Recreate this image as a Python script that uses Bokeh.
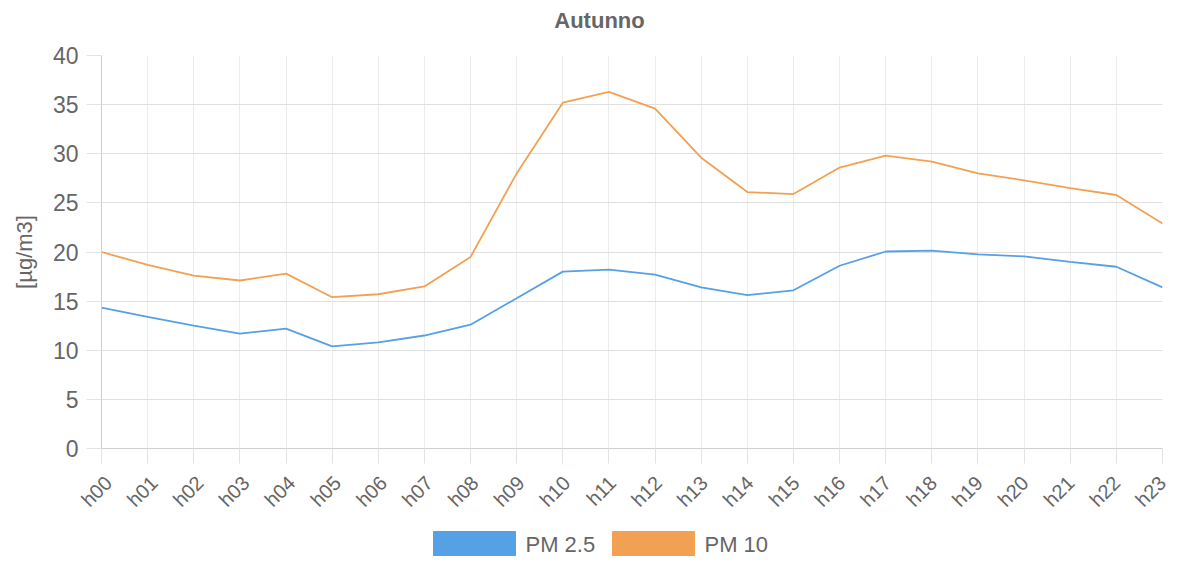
import math
from bokeh.plotting import figure
from bokeh.layouts import column
from bokeh.models import Range1d, FixedTicker, LinearAxis
from bokeh.core.properties import value
from bokeh.embed import file_html
from bokeh.resources import INLINE

hours = ["h00", "h01", "h02", "h03", "h04", "h05", "h06", "h07", "h08", "h09", "h10", "h11",
         "h12", "h13", "h14", "h15", "h16", "h17", "h18", "h19", "h20", "h21", "h22", "h23"]
pm25 = [14.35, 13.4, 12.5, 11.7, 12.2, 10.4, 10.8, 11.5, 12.6, 15.3, 18.0, 18.2,
        17.7, 16.4, 15.6, 16.1, 18.6, 20.05, 20.15, 19.75, 19.55, 19.0, 18.5, 16.4]
pm10 = [20.0, 18.7, 17.6, 17.1, 17.8, 15.4, 15.7, 16.5, 19.5, 28.0, 35.2, 36.3,
        34.6, 29.6, 26.1, 25.9, 28.6, 29.8, 29.2, 28.0, 27.3, 26.5, 25.8, 22.9]
y_ticks = [0, 5, 10, 15, 20, 25, 30, 35, 40]
series_names = ["PM 2.5", "PM 10"]
colors = ["#56a0e5", "#f2a153"]
title_text = "Autunno"
y_label = "[µg/m3]"

FONT = "Liberation Sans"
GREY = "#666666"
W = 1182
LEFT, RIGHT = 101, 20
FW = W - LEFT - RIGHT
H_TITLE = 40
H_LEG = 36

x = list(range(len(hours)))
n = len(hours)


def strip(height):
    s = figure(frame_width=FW, frame_height=height, output_backend="svg", toolbar_location=None,
               x_range=Range1d(LEFT, LEFT + FW), y_range=Range1d(height, 0),
               min_border_left=LEFT, min_border_right=RIGHT,
               min_border_top=0, min_border_bottom=0)
    s.axis.visible = False
    s.grid.visible = False
    s.outline_line_color = None
    s.background_fill_color = "white"
    s.border_fill_color = "white"
    return s


# title strip
t = strip(H_TITLE)
t.text(x=[599], y=[20], text=[title_text], text_font=value(FONT), text_font_size="22px",
       text_font_style="bold", text_color=GREY, text_align="center", text_baseline="middle")

# main chart
p = figure(frame_width=FW, frame_height=393, output_backend="svg", toolbar_location=None,
           x_range=Range1d(0, n - 1), y_range=Range1d(0, 40),
           min_border_left=LEFT, min_border_right=RIGHT, min_border_top=15, min_border_bottom=0)

p.outline_line_color = None
p.background_fill_color = "white"
p.border_fill_color = "white"

p.xaxis.ticker = FixedTicker(ticks=x)
p.xaxis.major_label_overrides = {i: "" for i in x}
p.xaxis.major_label_standoff = 0
p.yaxis.ticker = FixedTicker(ticks=y_ticks)

for ax in (p.xaxis, p.yaxis):
    ax.axis_line_color = "#cfcfcf"
    ax.major_tick_line_color = "#e3e3e3"
    ax.major_tick_out = 15
    ax.major_tick_in = 0
    ax.minor_tick_line_color = None
    ax.major_label_text_font = FONT
    ax.major_label_text_color = GREY

p.yaxis.major_label_text_font_size = "23px"
p.yaxis.major_label_standoff = 8

p.yaxis.axis_label = y_label
p.yaxis.axis_label_text_font = FONT
p.yaxis.axis_label_text_font_size = "22px"
p.yaxis.axis_label_text_font_style = "normal"
p.yaxis.axis_label_text_color = GREY
p.yaxis.axis_label_standoff = 13

# label axis, slightly shifted range so the rotated labels sit like the reference
p.extra_x_ranges = {"labels": Range1d(-0.15, n - 1)}
lab_axis = LinearAxis(x_range_name="labels", ticker=FixedTicker(ticks=x),
                      major_label_overrides={i: h for i, h in enumerate(hours)},
                      major_label_orientation=math.pi / 4,
                      axis_line_color=None, major_tick_line_color=None,
                      minor_tick_line_color=None, major_tick_out=0, major_tick_in=0,
                      major_label_standoff=16,
                      major_label_text_font=FONT, major_label_text_font_size="20px",
                      major_label_text_color=GREY)
p.add_layout(lab_axis, "below")

p.xgrid.ticker = FixedTicker(ticks=x)
p.xgrid.grid_line_color = "#ececec"
p.ygrid.grid_line_color = "#e0e0e0"

p.line(x, pm25, line_color=colors[0], line_width=1.8)
p.line(x, pm10, line_color=colors[1], line_width=1.8)

# legend strip (Chart.js style boxes below the chart)
leg = strip(H_LEG)
box_left = [433, 612]
box_w = 82
box_top, box_h = 10, 24
leg.quad(left=box_left, right=[b + box_w for b in box_left],
         top=[box_top] * 2, bottom=[box_top + box_h] * 2,
         fill_color=colors, line_color=colors)
leg.text(x=[b + box_w + 10 for b in box_left], y=[box_top + box_h / 2 + 1] * 2, text=series_names,
         text_font=value(FONT), text_font_size="22px", text_color=GREY,
         text_baseline="middle", text_align="left")

layout = column(t, p, leg, spacing=0)
open("out.html", "w").write(file_html(layout, INLINE))
